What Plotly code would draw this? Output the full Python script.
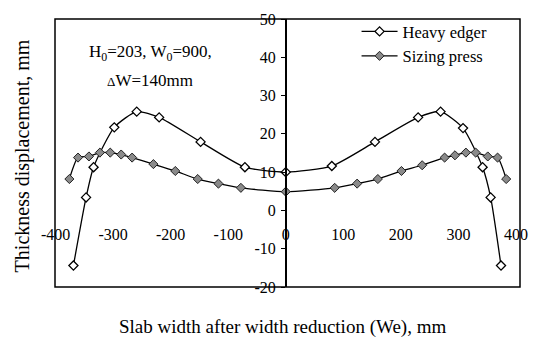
import plotly.graph_objects as go

# Data
he_x = [-369, -347, -334, -298, -259, -220, -148, -71, 0, 80, 155, 230, 269, 308, 342, 356, 374]
he_y = [-14.4, 3.4, 11.3, 21.7, 25.8, 24.3, 17.9, 11.3, 10.0, 11.6, 17.9, 24.3, 25.8, 21.5, 11.3, 3.4, -14.4]

sp_x = [-376, -361, -342, -323, -305, -286, -267, -230, -192, -153, -117, -78, 0,
        85, 124, 160, 201, 237, 276, 294, 313, 330, 351, 368, 383]
sp_y = [8.2, 13.8, 14.1, 15.1, 15.1, 14.6, 13.8, 12.1, 10.3, 8.2, 7.0, 5.9, 4.9,
        5.9, 7.0, 8.2, 10.3, 11.8, 13.8, 14.4, 15.1, 15.1, 14.1, 13.8, 8.2]

x_ticks = [-400, -300, -200, -100, 0, 100, 200, 300, 400]
y_ticks = [-20, -10, 0, 10, 20, 30, 40, 50]
x_ticktext = [str(v) for v in x_ticks]
y_ticktext = [str(v) for v in y_ticks]
x_range = [-401, 407]
y_range = [-20, 50]

FONT = "Liberation Serif"

fig = go.Figure()
fig.add_trace(go.Scatter(
    x=he_x, y=he_y, name="Heavy edger", mode="lines+markers",
    line=dict(color="black", width=1.3, shape="spline", smoothing=0.6),
    marker=dict(symbol="diamond", size=7, color="white", line=dict(color="black", width=1.3)),
))
fig.add_trace(go.Scatter(
    x=sp_x, y=sp_y, name="Sizing press", mode="lines+markers",
    line=dict(color="black", width=1.3, shape="spline", smoothing=0.6),
    marker=dict(symbol="diamond", size=7, color="#8a8a8a", line=dict(color="#222", width=1)),
))

x0_frac = (0 - x_range[0]) / (x_range[1] - x_range[0])
y0_frac = (0 - y_range[0]) / (y_range[1] - y_range[0])

fig.update_layout(
    width=539, height=340,
    margin=dict(l=55, r=11, t=11, b=53),
    paper_bgcolor="white", plot_bgcolor="white",
    font=dict(family=FONT, size=16, color="black"),
    showlegend=True,
    legend=dict(x=0.6485, y=1.018, xanchor="left", yanchor="top",
                bgcolor="rgba(0,0,0,0)", font=dict(size=16.5, family=FONT),
                tracegroupgap=0, itemwidth=36),
    xaxis=dict(range=x_range, tickvals=x_ticks, ticktext=x_ticktext, showgrid=False, zeroline=False,
               showline=False, anchor="free", position=y0_frac,
               ticks="", ticklabelstandoff=13, tickfont=dict(size=16, family=FONT)),
    yaxis=dict(range=y_range, tickvals=y_ticks, ticktext=y_ticktext, showgrid=False, zeroline=False,
               showline=True, linecolor="black", linewidth=1.5,
               anchor="free", position=x0_frac,
               ticks="outside", ticklen=4, tickcolor="black",
               ticklabelstandoff=2, tickfont=dict(size=16, family=FONT)),
    shapes=[dict(type="rect", xref="paper", yref="paper", x0=0, x1=1, y0=0, y1=1,
                 line=dict(color="black", width=1.5), layer="above")],
    annotations=[
        dict(text="H<sub>0</sub>=203, W<sub>0</sub>=900,", xref="paper", yref="paper",
             x=0.205, y=0.92, xanchor="center", showarrow=False, font=dict(size=17, family=FONT)),
        dict(text="<span style='font-size:13px'>Δ</span>W=140mm", xref="paper", yref="paper",
             x=0.205, y=0.815, xanchor="center", showarrow=False, font=dict(size=17, family=FONT)),
        dict(text="Thickness displacement, mm", xref="paper", yref="paper",
             x=-0.07, y=0.489, textangle=-90, showarrow=False, xanchor="center",
             font=dict(size=20, family=FONT)),
        dict(text="Slab width after width reduction (We), mm", xref="paper", yref="paper",
             x=0.49, y=-0.1, showarrow=False, xanchor="center", yanchor="top",
             font=dict(size=19, family=FONT)),
    ],
)

fig.write_html("out.html")
